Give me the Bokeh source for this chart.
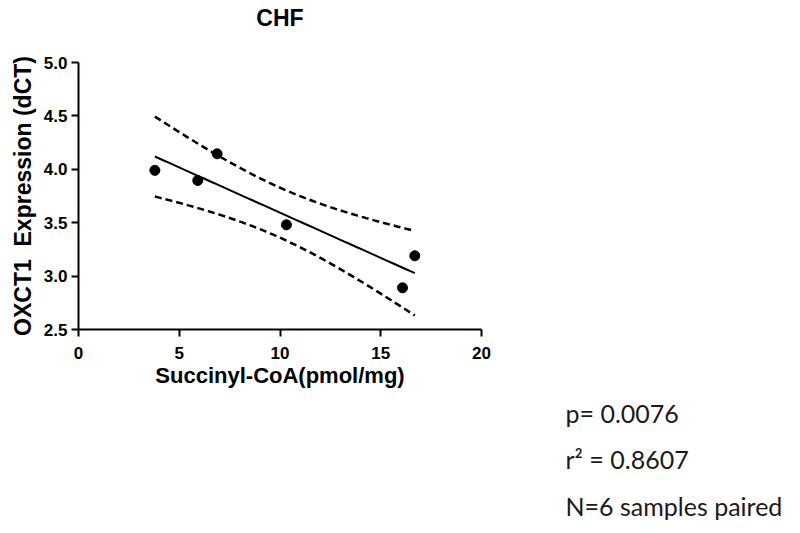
import numpy as np
from bokeh.plotting import figure
from bokeh.models import Range1d, FixedTicker, NumeralTickFormatter, Title
from bokeh.embed import file_html
from bokeh.resources import INLINE

# ---- data ----
title_text = "CHF"
x_label = "Succinyl-CoA(pmol/mg)"
y_label = "OXCT1\u00a0 Expression (dCT)"
succinyl_coa = [3.79, 5.92, 6.88, 10.32, 16.08, 16.69]
oxct1_dct = [3.99, 3.895, 4.145, 3.48, 2.89, 3.19]
x_ticks = [0, 5, 10, 15, 20]
y_ticks = [2.5, 3.0, 3.5, 4.0, 4.5, 5.0]
stats_lines = ["p= 0.0076", "r\u00b2 = 0.8607", "N=6 samples paired"]
t_crit = 2.776  # 95% two-sided, df = 4

# ---- linear regression with 95% confidence band ----
xa = np.array(succinyl_coa)
ya = np.array(oxct1_dct)
n = len(xa)
slope, intercept = np.polyfit(xa, ya, 1)
resid = ya - (slope * xa + intercept)
s = np.sqrt(np.sum(resid ** 2) / (n - 2))
sxx = np.sum((xa - xa.mean()) ** 2)
xf = np.linspace(xa.min(), xa.max(), 60)
yf = slope * xf + intercept
half = t_crit * s * np.sqrt(1.0 / n + (xf - xa.mean()) ** 2 / sxx)

W, H = 800, 533
p = figure(width=W, height=H, output_backend="svg", toolbar_location=None,
           x_range=Range1d(0, 20), y_range=Range1d(2.5, 5.0),
           min_border_left=78, min_border_right=W - 481,
           min_border_top=62, min_border_bottom=H - 329)
p.outline_line_color = None
p.xgrid.visible = False
p.ygrid.visible = False
p.background_fill_color = "white"
p.border_fill_color = "white"

p.title.text = title_text
p.title.align = "center"
p.title.standoff = 0
p.title.text_font = "Liberation Sans"
p.title.text_font_style = "bold"
p.title.text_font_size = "23px"
p.title.text_color = "black"
# blank spacer between the title and the plot frame
p.add_layout(Title(text=" ", text_font="Liberation Sans", text_font_size="22px",
                   standoff=4.5), "above")

for ax in (p.xaxis[0], p.yaxis[0]):
    ax.axis_line_width = 2
    ax.axis_line_color = "black"
    ax.major_tick_line_width = 2
    ax.major_tick_line_color = "black"
    ax.major_tick_out = 7
    ax.major_tick_in = 0
    ax.minor_tick_line_color = None
    ax.major_label_text_font = "Liberation Sans"
    ax.major_label_text_font_style = "bold"
    ax.major_label_text_font_size = "17px"
    ax.major_label_text_color = "black"
    ax.axis_label_text_font = "Liberation Sans"
    ax.axis_label_text_font_style = "bold"
    ax.axis_label_text_font_size = "22px"
    ax.axis_label_text_color = "black"

p.yaxis.axis_label_text_font_size = "23px"
p.xaxis.ticker = FixedTicker(ticks=x_ticks)
p.yaxis.ticker = FixedTicker(ticks=y_ticks)
p.yaxis.formatter = NumeralTickFormatter(format="0.0")
p.xaxis.axis_label = x_label
p.yaxis.axis_label = y_label
p.xaxis.major_label_standoff = 10
p.yaxis.major_label_standoff = 4
p.xaxis.axis_label_standoff = 1
p.yaxis.axis_label_standoff = 5

p.line(xf, yf, line_color="black", line_width=2)
p.line(xf, yf + half, line_color="black", line_width=2.5, line_dash="7 4")
p.line(xf, yf - half, line_color="black", line_width=2.5, line_dash="7 4")
p.scatter(succinyl_coa, oxct1_dct, size=10, color="black")

# statistics text, stacked below the x axis
text_offset = 565 - 78
standoffs = [9.7, 17.7, 11.7]
for t, so in zip(stats_lines, standoffs):
    p.add_layout(Title(text=t, align="left", offset=text_offset, standoff=so,
                       text_font="Lato", text_font_style="normal",
                       text_font_size="25px", text_color="#1a1a1a"), "below")

open("out.html", "w").write(file_html(p, INLINE))
